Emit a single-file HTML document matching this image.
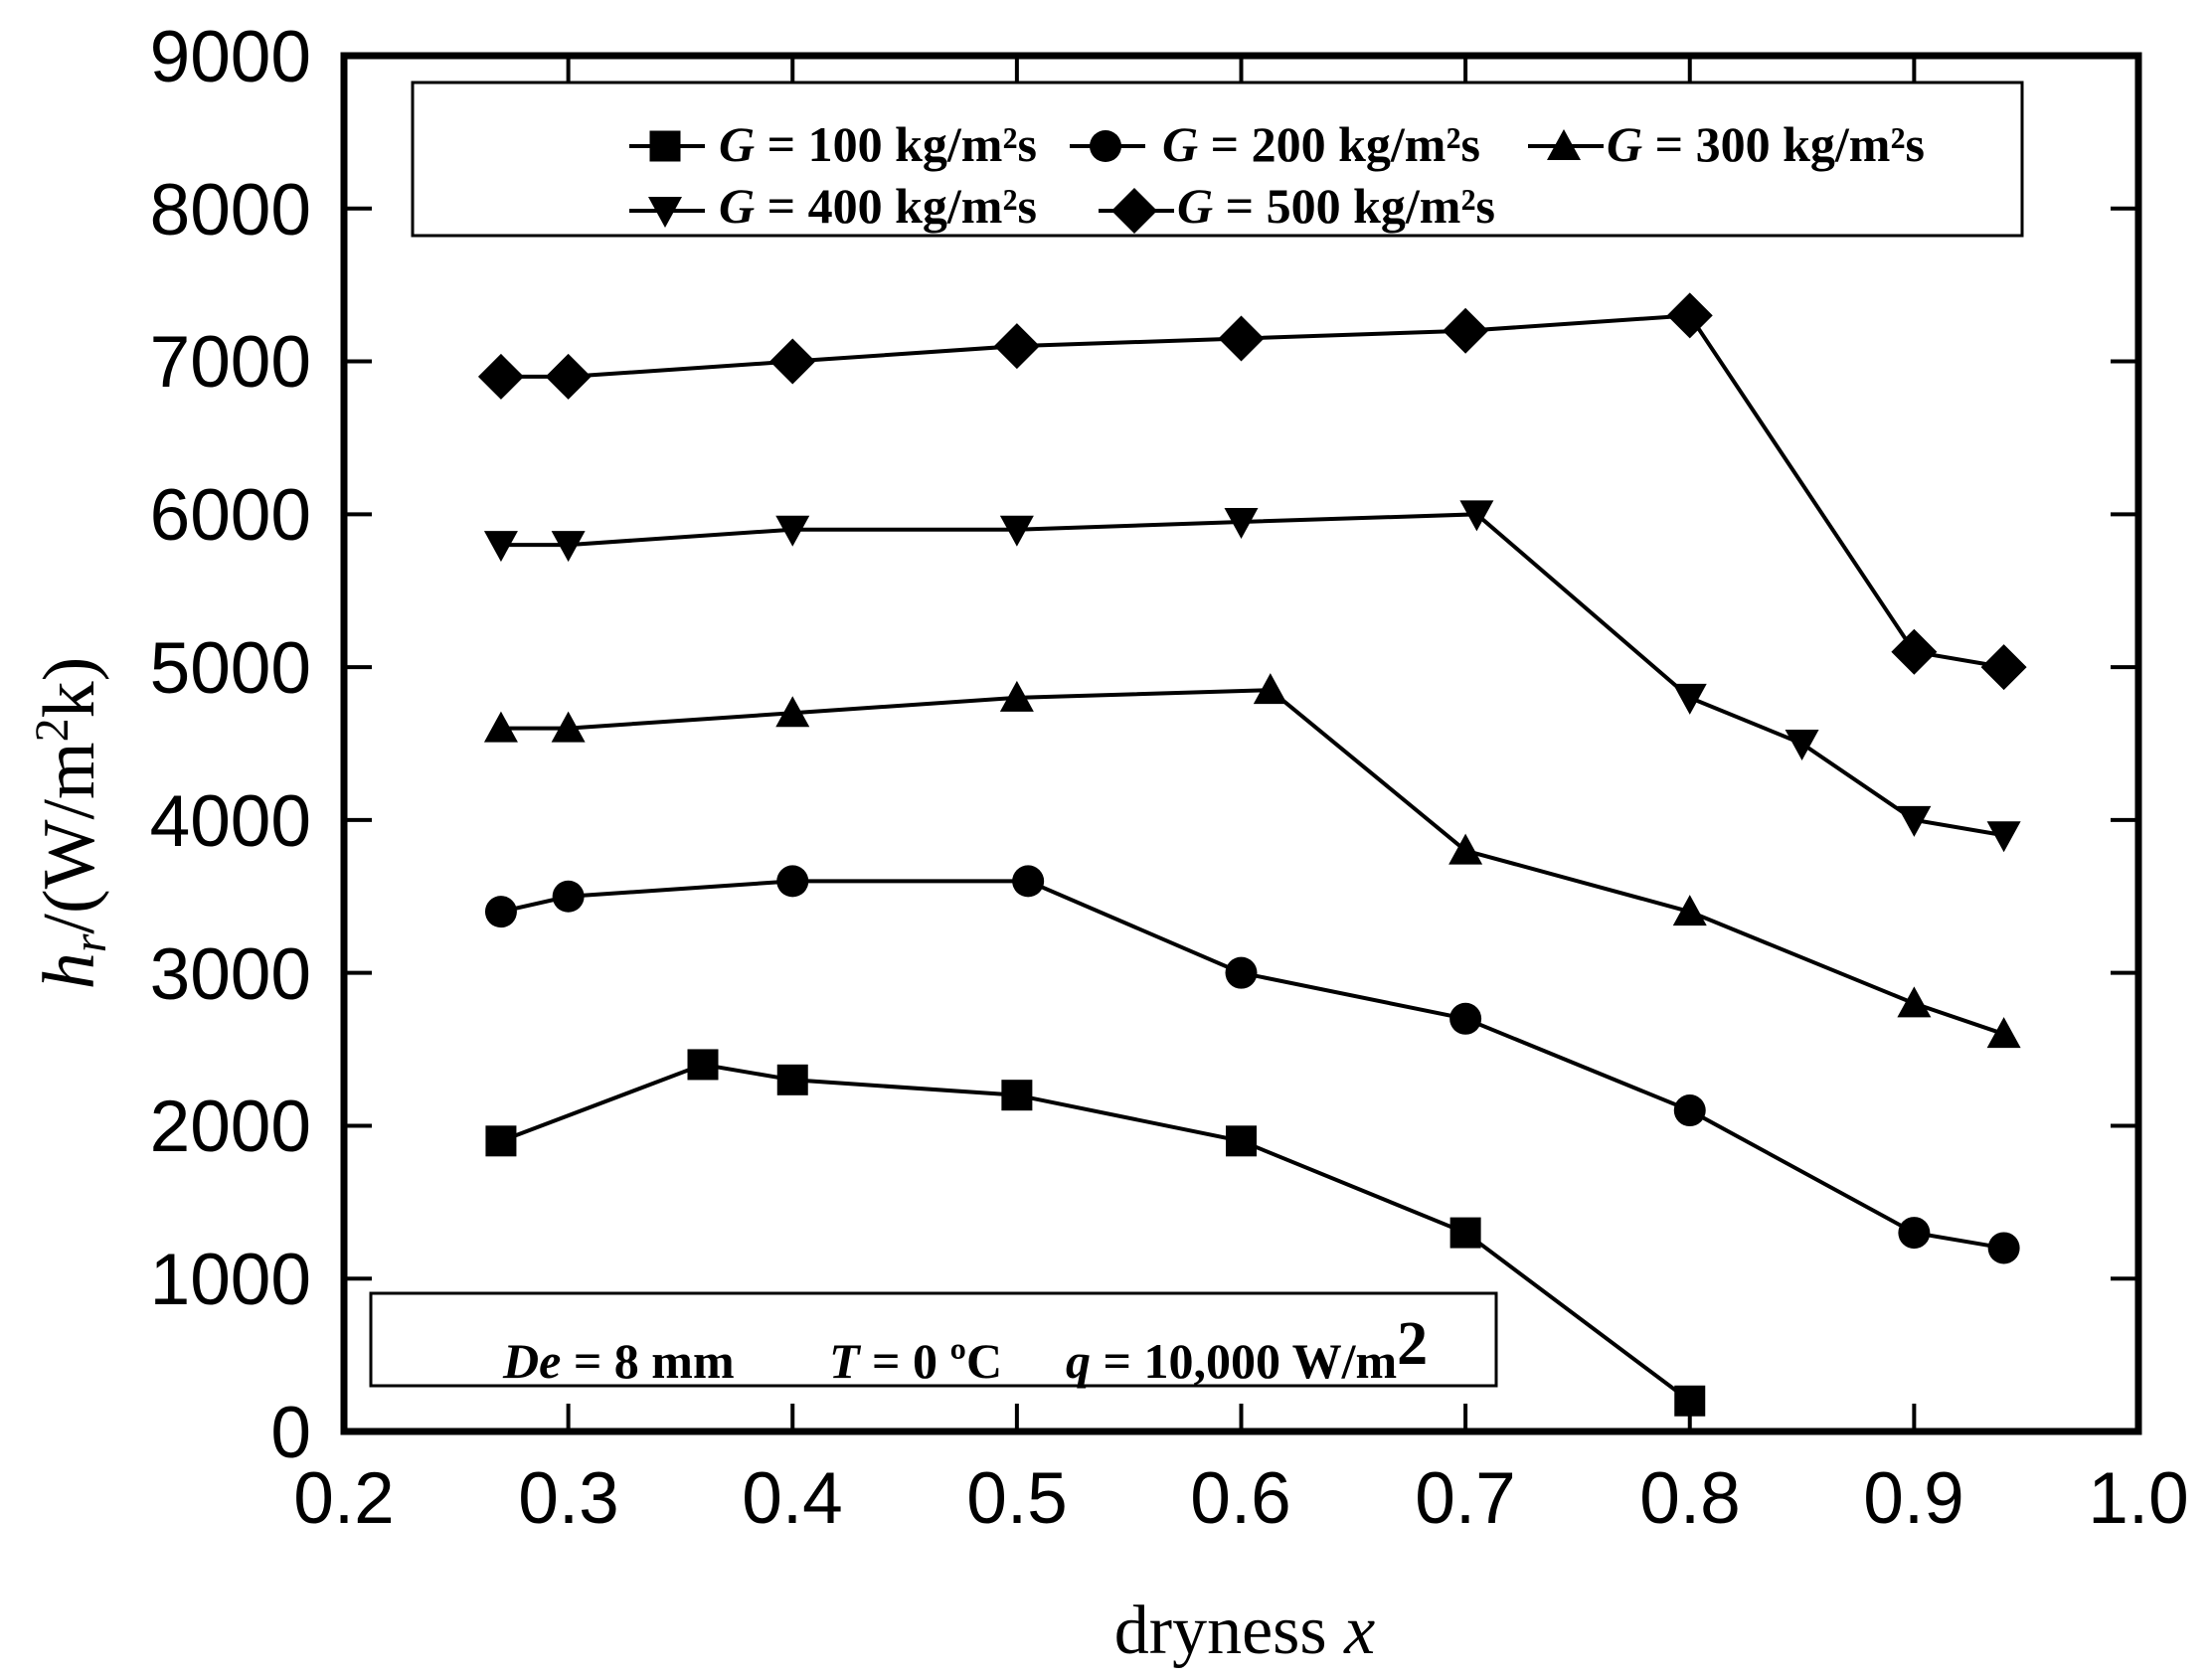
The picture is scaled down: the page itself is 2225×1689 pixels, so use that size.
<!DOCTYPE html>
<html><head><meta charset="utf-8"><style>
html,body{margin:0;padding:0;background:#fff;}
svg{display:block;}
.tk{font-family:"Liberation Sans",Arial,sans-serif;font-size:73px;}
.lg{font-family:"Liberation Serif","Times New Roman",serif;font-size:50px;font-weight:bold;}
</style></head><body>
<svg id="s" width="2225" height="1689" viewBox="0 0 2225 1689" xmlns="http://www.w3.org/2000/svg">
<rect width="2225" height="1689" fill="#fff"/>
<g id="ticks" stroke="#000" stroke-width="4"></g>
<rect x="346" y="56" width="1805" height="1384" fill="none" stroke="#000" stroke-width="7"/>
<g class="tk" text-anchor="end">
<text x="313" y="1466">0</text>
<text x="313" y="1312">1000</text>
<text x="313" y="1158">2000</text>
<text x="313" y="1005">3000</text>
<text x="313" y="851">4000</text>
<text x="313" y="697">5000</text>
<text x="313" y="543">6000</text>
<text x="313" y="389">7000</text>
<text x="313" y="236">8000</text>
<text x="313" y="82">9000</text>
</g>
<g class="tk" text-anchor="middle">
<text x="346" y="1532">0.2</text>
<text x="572" y="1532">0.3</text>
<text x="797" y="1532">0.4</text>
<text x="1023" y="1532">0.5</text>
<text x="1248" y="1532">0.6</text>
<text x="1474" y="1532">0.7</text>
<text x="1700" y="1532">0.8</text>
<text x="1925" y="1532">0.9</text>
<text x="2151" y="1532">1.0</text>
</g>
<text x="1252" y="1663" text-anchor="middle" font-family="Liberation Serif, serif" font-size="70">dryness <tspan font-style="italic">x</tspan></text>
<text transform="translate(94,828) rotate(-90)" text-anchor="middle" font-family="Liberation Serif, serif" font-size="74"><tspan font-style="italic">h</tspan><tspan font-style="italic" font-size="48" dy="12">r</tspan><tspan dy="-12">/(W/m</tspan><tspan font-size="48" dy="-26">2</tspan><tspan dy="26">k)</tspan></text>
<rect x="415" y="83" width="1619" height="154" fill="#fff" stroke="#000" stroke-width="3"/>
<rect x="373" y="1301" width="1132" height="93" fill="#fff" stroke="#000" stroke-width="3"/>
<g id="data"></g>
<g id="leg"></g>
<g class="lg">
<text x="723" y="162"><tspan font-style="italic">G</tspan> = 100 kg/m²s</text>
<text x="1169" y="162"><tspan font-style="italic">G</tspan> = 200 kg/m²s</text>
<text x="1616" y="162"><tspan font-style="italic">G</tspan> = 300 kg/m²s</text>
<text x="723" y="224"><tspan font-style="italic">G</tspan> = 400 kg/m²s</text>
<text x="1184" y="224"><tspan font-style="italic">G</tspan> = 500 kg/m²s</text>
<text x="506" y="1386"><tspan font-style="italic">De</tspan> = 8 mm</text>
<text x="834" y="1386"><tspan font-style="italic">T</tspan> = 0 ºC</text>
<text x="1072" y="1386"><tspan font-style="italic">q</tspan> = 10,000 W/m<tspan font-size="62" dy="-14">2</tspan></text>
</g>
</svg>
<script>
var NS="http://www.w3.org/2000/svg";
function X(v){return 346+(v-0.2)*2256.25;}
function Y(v){return 1440-v*0.15378;}
function el(p,t,a){var e=document.createElementNS(NS,t);for(var k in a)e.setAttribute(k,a[k]);p.appendChild(e);return e;}
var tk=document.getElementById('ticks');
for(var i=1;i<8;i++){var x=X(0.2+i*0.1);el(tk,'line',{x1:x,y1:1440,x2:x,y2:1412});el(tk,'line',{x1:x,y1:56,x2:x,y2:84});}
for(var j=1;j<9;j++){var y=Y(j*1000);el(tk,'line',{x1:346,y1:y,x2:374,y2:y});el(tk,'line',{x1:2151,y1:y,x2:2123,y2:y});}
function mk(g,t,x,y){
 if(t==0)el(g,'rect',{x:x-15.5,y:y-15.5,width:31,height:31});
 else if(t==1)el(g,'circle',{cx:x,cy:y,r:16});
 else if(t==2)el(g,'polygon',{points:(x-17)+','+(y+14)+' '+(x+17)+','+(y+14)+' '+x+','+(y-17)});
 else if(t==3)el(g,'polygon',{points:(x-17)+','+(y-14)+' '+(x+17)+','+(y-14)+' '+x+','+(y+17)});
 else el(g,'polygon',{points:x+','+(y-23)+' '+(x+23)+','+y+' '+x+','+(y+23)+' '+(x-23)+','+y});
}
var D=[
[[0.27,1900],[0.36,2400],[0.4,2300],[0.5,2200],[0.6,1900],[0.7,1300],[0.8,200]],
[[0.27,3400],[0.3,3500],[0.4,3600],[0.505,3600],[0.6,3000],[0.7,2700],[0.8,2100],[0.9,1300],[0.94,1200]],
[[0.27,4600],[0.3,4600],[0.4,4700],[0.5,4800],[0.613,4850],[0.7,3800],[0.8,3400],[0.9,2800],[0.94,2600]],
[[0.27,5800],[0.3,5800],[0.4,5900],[0.5,5900],[0.6,5950],[0.705,6000],[0.8,4800],[0.85,4500],[0.9,4000],[0.94,3900]],
[[0.27,6900],[0.3,6900],[0.4,7000],[0.5,7100],[0.6,7150],[0.7,7200],[0.8,7300],[0.9,5100],[0.94,5000]]];
var g=document.getElementById('data');
D.forEach(function(s,t){
 el(g,'polyline',{points:s.map(function(p){return X(p[0])+','+Y(p[1]);}).join(' '),fill:'none',stroke:'#000','stroke-width':4});
 s.forEach(function(p){mk(g,t,X(p[0]),Y(p[1]));});
});
var L=document.getElementById('leg');
[[669,147,0],[1112,147,1],[1573,147,2],[669,212,3],[1141,212,4]].forEach(function(a){
 el(L,'line',{x1:a[0]-36,y1:a[1],x2:a[0]+40,y2:a[1],stroke:'#000','stroke-width':4});
 mk(L,a[2],a[0],a[1]);
});
</script>
</body></html>
